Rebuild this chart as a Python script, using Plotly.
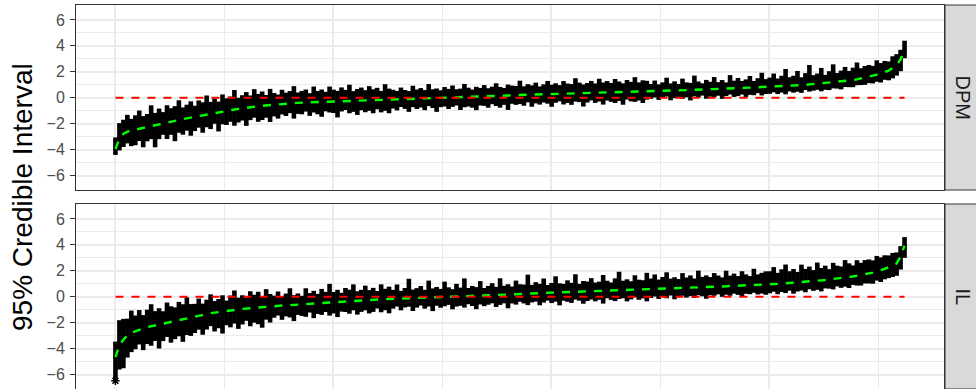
import numpy as np
import plotly.graph_objects as go

# Posterior summaries per sorted unit: mean and distances to the 95% bounds.
PANELS = ["DPM", "IL"]
N_UNITS = 1810
Y_TICKS = [-6, -4, -2, 0, 2, 4, 6]
Y_TICK_LABELS = [str(v).replace("-", "\u2212") for v in Y_TICKS]
Y_MINOR = [-5, -3, -1, 1, 3, 5]

DPM_MEAN = [
    -3.95, -3.15, -2.79, -2.61, -2.52, -2.45, -2.38, -2.31, -2.25, -2.18,
    -2.11, -2.03, -1.95, -1.87, -1.80, -1.74, -1.69, -1.64, -1.58, -1.52,
    -1.46, -1.40, -1.34, -1.27, -1.21, -1.15, -1.09, -1.04, -0.99, -0.95,
    -0.90, -0.85, -0.80, -0.76, -0.72, -0.68, -0.65, -0.61, -0.58, -0.56,
    -0.53, -0.50, -0.48, -0.45, -0.43, -0.40, -0.39, -0.37, -0.36, -0.34,
    -0.33, -0.32, -0.31, -0.29, -0.28, -0.27, -0.26, -0.25, -0.24, -0.24,
    -0.23, -0.22, -0.21, -0.21, -0.20, -0.19, -0.18, -0.17, -0.15, -0.14,
    -0.13, -0.12, -0.11, -0.10, -0.08, -0.07, -0.06, -0.05, -0.05, -0.04,
    -0.04, -0.03, -0.02, -0.02, -0.01, 0.00, 0.01, 0.01, 0.02, 0.03,
    0.04, 0.05, 0.06, 0.08, 0.09, 0.11, 0.12, 0.14, 0.16, 0.17,
    0.19, 0.21, 0.22, 0.24, 0.25, 0.26, 0.27, 0.28, 0.29, 0.30,
    0.31, 0.32, 0.33, 0.34, 0.35, 0.36, 0.36, 0.37, 0.38, 0.39,
    0.40, 0.41, 0.42, 0.43, 0.44, 0.44, 0.45, 0.46, 0.47, 0.47,
    0.48, 0.49, 0.49, 0.50, 0.51, 0.52, 0.53, 0.54, 0.54, 0.55,
    0.56, 0.57, 0.57, 0.58, 0.59, 0.60, 0.61, 0.61, 0.62, 0.63,
    0.64, 0.65, 0.66, 0.67, 0.69, 0.70, 0.72, 0.73, 0.75, 0.77,
    0.78, 0.80, 0.81, 0.83, 0.84, 0.86, 0.87, 0.89, 0.90, 0.92,
    0.94, 0.95, 0.97, 0.98, 1.00, 1.03, 1.05, 1.07, 1.10, 1.12,
    1.15, 1.18, 1.21, 1.25, 1.28, 1.32, 1.37, 1.42, 1.48, 1.55,
    1.63, 1.71, 1.79, 1.88, 1.99, 2.10, 2.30, 2.56, 2.95, 3.75,
]
DPM_UP = [
    0.9, 1.2, 1.1, 1.3, 0.9, 1.1, 1.4, 0.9, 1.0, 1.6,
    0.95, 1.2, 0.85, 1.3, 1.0, 1.1, 1.5, 0.9, 1.05, 1.25,
    0.85, 1.2, 1.0, 1.45, 0.9, 1.1, 0.8, 1.3, 0.95, 1.05,
    1.5, 0.85, 1.0, 1.2, 0.9, 1.35, 0.95, 1.1, 0.8, 1.25,
    0.9, 0.75, 1.1, 0.85, 0.95, 1.3, 0.8, 0.9, 1.0, 0.7,
    1.2, 0.85, 0.95, 0.75, 1.15, 0.9, 0.8, 1.05, 0.85, 1.25,
    0.75, 0.9, 1.0, 0.8, 1.1, 0.85, 0.95, 0.7, 1.2, 0.85,
    0.75, 0.65, 0.9, 0.7, 0.6, 1.0, 0.7, 0.8, 0.65, 1.1,
    0.7, 0.75, 0.6, 0.85, 0.7, 0.95, 0.65, 0.7, 1.05, 0.75,
    0.6, 0.8, 0.7, 0.9, 0.65, 0.75, 1.0, 0.7, 0.6, 0.85,
    0.75, 0.7, 1.1, 0.65, 0.8, 0.7, 0.9, 0.6, 0.75, 1.0,
    0.7, 0.8, 0.65, 0.95, 0.75, 0.7, 1.15, 0.8, 0.65, 0.75,
    0.9, 0.7, 1.05, 0.75, 0.85, 0.7, 1.0, 0.8, 0.65, 0.9,
    0.75, 1.1, 0.7, 0.85, 0.8, 0.55, 0.8, 0.5, 0.65, 1.0,
    0.55, 0.7, 0.5, 0.9, 0.6, 0.55, 1.1, 0.65, 0.5, 0.75,
    0.6, 0.95, 0.55, 0.7, 0.5, 1.05, 0.6, 0.8, 0.55, 0.65,
    0.9, 0.5, 0.7, 1.1, 0.6, 0.7, 1.0, 0.6, 0.8, 1.3,
    0.65, 0.75, 1.1, 0.6, 0.9, 1.5, 0.7, 0.8, 1.2, 0.65,
    0.9, 1.4, 0.7, 0.85, 1.1, 0.75, 0.95, 1.3, 0.8, 0.9,
    0.9, 0.75, 1.1, 0.8, 0.85, 0.7, 0.9, 0.8, 0.75, 0.65,
]
DPM_DOWN = [
    0.45, 0.9, 1.0, 0.9, 1.2, 1.2, 0.95, 1.5, 1.1, 1.0,
    1.7, 1.15, 0.9, 1.3, 1.05, 1.6, 1.0, 1.2, 0.95, 1.4,
    1.1, 0.9, 1.35, 1.0, 1.2, 0.85, 1.5, 1.0, 1.1, 0.9,
    1.25, 1.05, 0.95, 1.4, 1.0, 0.85, 1.2, 1.1, 0.95, 1.3,
    0.9, 1.1, 0.8, 0.95, 0.75, 1.2, 0.85, 0.9, 0.7, 1.05,
    0.8, 0.95, 1.15, 0.75, 0.85, 0.9, 1.25, 0.8, 0.7, 0.95,
    0.85, 1.1, 0.75, 0.9, 0.8, 1.0, 0.7, 0.95, 0.85, 1.05,
    0.7, 0.85, 0.6, 0.75, 1.0, 0.65, 0.8, 0.7, 0.9, 0.6,
    0.75, 1.05, 0.7, 0.65, 0.85, 0.7, 0.6, 0.95, 0.75, 0.7,
    0.8, 1.0, 0.65, 0.7, 0.85, 0.6, 0.75, 0.9, 0.7, 1.1,
    0.65, 0.75, 0.7, 0.85, 0.6, 0.95, 0.7, 0.8, 0.65, 0.75,
    1.0, 0.7, 0.6, 0.85, 0.75, 0.9, 0.65, 0.7, 1.05, 0.75,
    0.6, 0.8, 0.7, 0.95, 0.65, 0.75, 0.85, 0.7, 1.0, 0.6,
    0.75, 0.8, 0.7, 0.9, 0.65, 0.6, 0.5, 0.7, 0.55, 0.45,
    0.75, 0.6, 0.5, 0.65, 0.55, 0.8, 0.5, 0.6, 0.45, 0.7,
    0.55, 0.6, 0.5, 0.75, 0.55, 0.45, 0.65, 0.6, 0.5, 0.7,
    0.55, 0.6, 0.45, 0.65, 0.55, 0.55, 0.45, 0.6, 0.5, 0.65,
    0.45, 0.55, 0.5, 0.6, 0.4, 0.55, 0.5, 0.45, 0.6, 0.5,
    0.55, 0.45, 0.5, 0.6, 0.45, 0.5, 0.55, 0.45, 0.5, 0.55,
    0.5, 0.6, 0.55, 0.7, 0.6, 0.75, 0.8, 0.85, 0.9, 0.7,
]

IL_MEAN = [
    -4.65, -3.70, -3.30, -2.98, -2.76, -2.64, -2.52, -2.41, -2.34, -2.27,
    -2.20, -2.13, -2.06, -1.99, -1.93, -1.86, -1.79, -1.72, -1.64, -1.56,
    -1.49, -1.43, -1.37, -1.32, -1.26, -1.22, -1.17, -1.13, -1.09, -1.05,
    -1.01, -0.97, -0.93, -0.90, -0.87, -0.84, -0.81, -0.78, -0.76, -0.73,
    -0.71, -0.69, -0.67, -0.65, -0.64, -0.62, -0.59, -0.57, -0.54, -0.51,
    -0.49, -0.47, -0.44, -0.42, -0.40, -0.38, -0.36, -0.34, -0.32, -0.30,
    -0.29, -0.27, -0.26, -0.24, -0.23, -0.21, -0.20, -0.19, -0.18, -0.17,
    -0.16, -0.15, -0.14, -0.12, -0.11, -0.09, -0.08, -0.07, -0.06, -0.05,
    -0.05, -0.04, -0.04, -0.03, -0.02, -0.01, 0.00, 0.01, 0.02, 0.03,
    0.04, 0.05, 0.06, 0.08, 0.09, 0.10, 0.12, 0.13, 0.15, 0.17,
    0.19, 0.20, 0.22, 0.24, 0.26, 0.27, 0.28, 0.30, 0.31, 0.31,
    0.32, 0.33, 0.34, 0.35, 0.37, 0.38, 0.39, 0.40, 0.42, 0.43,
    0.44, 0.45, 0.47, 0.48, 0.49, 0.51, 0.52, 0.53, 0.54, 0.55,
    0.55, 0.56, 0.57, 0.58, 0.60, 0.61, 0.62, 0.63, 0.63, 0.64,
    0.65, 0.66, 0.67, 0.68, 0.69, 0.70, 0.71, 0.72, 0.74, 0.75,
    0.77, 0.78, 0.79, 0.80, 0.81, 0.83, 0.84, 0.85, 0.87, 0.88,
    0.90, 0.91, 0.93, 0.95, 0.96, 0.97, 0.99, 1.00, 1.02, 1.04,
    1.07, 1.09, 1.11, 1.13, 1.15, 1.18, 1.21, 1.24, 1.27, 1.30,
    1.33, 1.37, 1.40, 1.44, 1.48, 1.53, 1.57, 1.62, 1.67, 1.73,
    1.78, 1.86, 1.95, 2.04, 2.15, 2.29, 2.43, 2.57, 3.10, 3.95,
]
IL_UP = [
    1.2, 1.9, 1.6, 1.3, 1.7, 1.2, 1.5, 1.0, 1.35, 1.7,
    1.1, 1.25, 0.95, 1.55, 1.2, 1.05, 1.4, 1.15, 1.6, 1.0,
    0.95, 1.3, 0.85, 1.1, 1.45, 0.9, 1.0, 1.25, 0.8, 1.15,
    1.5, 0.9, 1.05, 0.85, 1.3, 1.0, 1.2, 0.8, 1.35, 0.95,
    0.8, 1.1, 0.7, 0.9, 1.3, 0.75, 0.85, 0.65, 1.2, 0.8,
    0.95, 0.7, 1.05, 0.8, 1.4, 0.75, 0.9, 0.65, 1.0, 0.85,
    1.25, 0.7, 0.8, 1.1, 0.75, 0.9, 0.65, 1.15, 0.8, 0.95,
    0.7, 1.1, 0.6, 0.8, 1.5, 0.65, 0.75, 0.9, 0.6, 1.3,
    0.7, 0.8, 0.65, 1.2, 0.75, 0.6, 1.0, 0.7, 1.4, 0.65,
    0.8, 0.7, 1.15, 0.6, 0.75, 0.95, 0.65, 1.3, 0.7, 0.8,
    0.6, 1.05, 0.75, 0.7, 1.45, 0.65, 0.85, 0.7, 1.1, 0.6,
    0.75, 1.25, 0.7, 0.65, 0.9, 0.7, 1.35, 0.6, 0.8, 0.75,
    1.0, 0.65, 0.7, 1.2, 0.75, 0.6, 0.9, 1.4, 0.7, 0.8,
    0.65, 1.1, 0.75, 0.7, 1.25, 0.8, 1.1, 0.7, 0.9, 1.25,
    0.75, 0.85, 0.7, 1.15, 0.8, 0.95, 0.7, 1.3, 0.8, 0.9,
    0.75, 1.05, 0.85, 0.7, 1.2, 0.8, 0.95, 0.75, 1.1, 0.85,
    0.7, 1.25, 0.8, 0.9, 1.0, 1.0, 1.3, 0.85, 1.1, 1.45,
    0.9, 1.05, 0.8, 1.35, 1.0, 1.15, 0.85, 1.4, 0.95, 1.1,
    0.8, 1.25, 1.0, 0.9, 1.35, 1.05, 0.85, 1.2, 0.95, 1.1,
    1.1, 0.95, 1.2, 1.0, 1.05, 0.9, 0.95, 0.85, 0.8, 0.65,
]
IL_DOWN = [
    1.81, 1.9, 2.2, 1.7, 1.5, 1.4, 1.15, 1.7, 1.3, 1.5,
    1.2, 1.85, 1.35, 1.1, 1.6, 1.4, 1.25, 1.75, 1.3, 1.45,
    1.3, 1.1, 1.55, 1.2, 1.0, 1.45, 1.25, 1.7, 1.1, 1.3,
    1.05, 1.5, 1.2, 0.95, 1.4, 1.15, 1.3, 1.6, 1.0, 1.25,
    0.9, 0.75, 1.1, 0.85, 0.95, 1.25, 0.8, 0.9, 1.0, 0.7,
    1.15, 0.85, 0.95, 0.75, 1.05, 0.9, 1.2, 0.8, 0.85, 1.0,
    0.75, 1.1, 0.9, 0.8, 1.05, 0.95, 0.7, 1.0, 0.85, 1.1,
    0.75, 0.6, 0.9, 0.7, 0.65, 1.0, 0.75, 0.6, 0.85, 0.7,
    1.05, 0.65, 0.8, 0.7, 0.6, 0.95, 0.75, 0.7, 0.85, 0.6,
    0.75, 1.0, 0.65, 0.8, 0.7, 0.6, 0.9, 0.75, 0.65, 1.05,
    0.7, 0.8, 0.6, 0.75, 0.9, 0.7, 0.65, 0.95, 0.75, 0.6,
    0.8, 0.7, 1.0, 0.65, 0.75, 0.85, 0.6, 0.7, 0.95, 0.75,
    0.65, 0.8, 0.7, 1.0, 0.6, 0.75, 0.85, 0.7, 0.65, 0.9,
    0.75, 0.6, 0.8, 0.7, 0.95, 0.7, 0.6, 0.8, 0.65, 0.75,
    0.55, 0.85, 0.7, 0.6, 0.75, 0.65, 0.8, 0.6, 0.7, 0.9,
    0.65, 0.7, 0.6, 0.8, 0.65, 0.75, 0.6, 0.7, 0.85, 0.65,
    0.7, 0.6, 0.75, 0.7, 0.8, 0.7, 0.6, 0.8, 0.65, 0.75,
    0.6, 0.85, 0.7, 0.65, 0.8, 0.6, 0.75, 0.7, 0.85, 0.65,
    0.7, 0.8, 0.6, 0.75, 0.7, 0.85, 0.65, 0.75, 0.8, 0.7,
    0.75, 0.85, 0.7, 0.9, 0.8, 0.85, 0.9, 0.95, 1.0, 0.95,
]

SERIES = {
    "DPM": (DPM_MEAN, DPM_UP, DPM_DOWN),
    "IL": (IL_MEAN, IL_UP, IL_DOWN),
}

FONT = "Liberation Sans, Arial, sans-serif"
GRID = "#ebebeb"
BORDER = "#333333"

# Layout geometry (pixels)
W, H = 976, 389
ML, MR, MT, MB = 76, 32, 5, 0
PW, PH = W - ML - MR, H - MT - MB
GAP = 14
panel_h = (PH - GAP) / 2
domains = [
    [(panel_h + GAP) / PH, 1.0],
    [0.0, panel_h / PH],
]

x_span = N_UNITS - 1
x_range = [1 - 0.05 * x_span, N_UNITS + 0.05 * x_span]
y_range = [-7.1, 7.15]

fig = go.Figure()

for k, name in enumerate(PANELS):
    mean, up, down = (np.asarray(a, dtype=float) for a in SERIES[name])
    rank = np.linspace(1, N_UNITS, len(mean))
    xa = "x" if k == 0 else "x2"
    ya = "y" if k == 0 else "y2"

    # 95% intervals with posterior means
    fig.add_trace(go.Scatter(
        x=rank, y=mean, mode="markers", xaxis=xa, yaxis=ya,
        marker=dict(color="black", size=4),
        error_y=dict(type="data", symmetric=False, array=up, arrayminus=down,
                     color="black", thickness=4.6, width=0),
        showlegend=False, hoverinfo="skip",
    ))
    # Sorted posterior means
    fig.add_trace(go.Scatter(
        x=rank, y=mean, mode="lines", xaxis=xa, yaxis=ya,
        line=dict(color="#00ff00", width=2.4, dash="8px,8px"),
        showlegend=False, hoverinfo="skip",
    ))
    # Reference line at zero
    fig.add_trace(go.Scatter(
        x=[rank[0], rank[-1]], y=[0, 0], mode="lines", xaxis=xa, yaxis=ya,
        line=dict(color="#ff0000", width=2, dash="8px,8px"),
        showlegend=False, hoverinfo="skip",
    ))
    # Lower bounds falling below the lowest tick
    lower = mean - down
    low_mask = lower < Y_TICKS[0]
    if low_mask.any():
        fig.add_trace(go.Scatter(
            x=rank[low_mask], y=lower[low_mask], mode="markers",
            xaxis=xa, yaxis=ya,
            marker=dict(symbol="asterisk-open", size=7, color="black",
                        line=dict(color="black", width=1.5)),
            showlegend=False, hoverinfo="skip",
        ))

    # Facet strip
    d0, d1 = domains[k]
    fig.add_shape(type="rect", xref="paper", yref="paper",
                  x0=1 + 1 / PW, x1=1 + (MR + 2) / PW, y0=d0, y1=d1,
                  fillcolor="#d9d9d9", line=dict(color=BORDER, width=1),
                  layer="above")
    fig.add_annotation(text=name, xref="paper", yref="paper",
                       x=1 + 19 / PW, y=(d0 + d1) / 2, showarrow=False,
                       textangle=90, xanchor="center", yanchor="middle",
                       font=dict(family=FONT, size=20, color="#1a1a1a"))

axis_common_x = dict(
    range=x_range, showticklabels=False, ticks="",
    tick0=0, dtick=500, showgrid=True, gridcolor=GRID, gridwidth=1.8,
    minor=dict(tick0=0, dtick=250, showgrid=True, gridcolor=GRID, gridwidth=1),
    zeroline=False, showline=True, mirror=True, linecolor=BORDER, linewidth=1,
)
axis_common_y = dict(
    range=y_range, tickmode="array", tickvals=Y_TICKS, ticktext=Y_TICK_LABELS,
    ticks="outside", ticklen=5, tickwidth=1, tickcolor=BORDER,
    ticklabelstandoff=2,
    tickfont=dict(family=FONT, size=16, color="#4d4d4d"),
    showgrid=True, gridcolor=GRID, gridwidth=1.8,
    minor=dict(tickmode="array", tickvals=Y_MINOR, showgrid=True,
               gridcolor=GRID, gridwidth=1, ticks=""),
    zeroline=False, showline=True, mirror=True, linecolor=BORDER, linewidth=1,
)

fig.update_layout(
    width=W, height=H,
    margin=dict(l=ML, r=MR, t=MT, b=MB, pad=0),
    paper_bgcolor="white", plot_bgcolor="white",
    font=dict(family=FONT),
    xaxis=dict(domain=[0, 1], anchor="y", **axis_common_x),
    yaxis=dict(domain=domains[0], anchor="x", **axis_common_y),
    xaxis2=dict(domain=[0, 1], anchor="y2", matches="x", **axis_common_x),
    yaxis2=dict(domain=domains[1], anchor="x2", **axis_common_y),
)

fig.add_annotation(text="95% Credible Interval", xref="paper", yref="paper",
                   x=(22 - ML) / PW, y=0.5, showarrow=False, textangle=-90,
                   xanchor="center", yanchor="middle",
                   font=dict(family=FONT, size=28, color="black"))

fig.write_html("out.html")
